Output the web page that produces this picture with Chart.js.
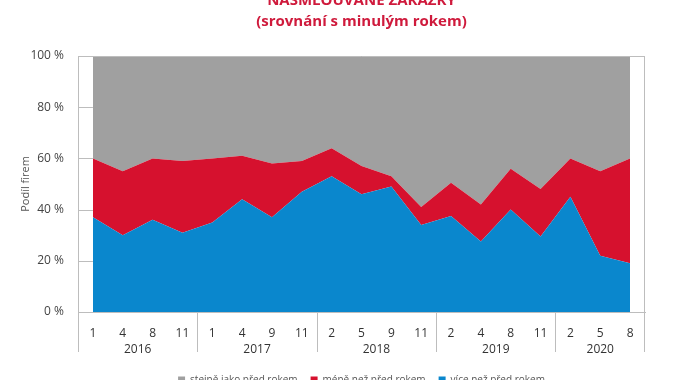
<!DOCTYPE html>
<html>
<head>
<meta charset="utf-8">
<script src="https://cdn.jsdelivr.net/npm/chart.js@4"></script>
<style>
  html, body { margin: 0; padding: 0; overflow: hidden; background: #fff; }
  #wrap { position: relative; width: 674px; height: 380px; overflow: hidden; }
  #title {
    position: absolute; left: 78px; width: 567px; top: -11px;
    text-align: center; color: #cf1a3c; font-family: "Open Sans", sans-serif;
    font-weight: bold; font-size: 15px; line-height: 21px;
  }
  canvas { position: absolute; left: 0; top: 0; }
</style>
</head>
<body>
<div id="wrap">
  <canvas id="chart" width="674" height="400"></canvas>
  <div id="title">NASMLOUVANÉ ZAKÁZKY<br>(srovnání s minulým rokem)</div>
</div>
<script>
const months = ["1", "4", "8", "11", "1", "4", "9", "11", "2", "5", "9", "11", "2", "4", "8", "11", "2", "5", "8"];
const years = ["2016", "2017", "2018", "2019", "2020"];
const yearCounts = [4, 4, 4, 4, 3];

// share of firms, %
const more = [37, 30, 36, 31, 35, 44, 37, 47, 53, 46, 49, 34, 37.5, 27.5, 40, 29.5, 45, 22, 19];
const less = [23, 25, 24, 28, 25, 17, 21, 12, 11, 11, 4, 7, 13, 14.5, 16, 18.5, 15, 33, 41];
const same = [40, 45, 40, 41, 40, 39, 42, 41, 36, 43, 47, 59, 49.5, 58, 44, 52, 40, 45, 40];

const lineColor = "#bdbdbd";
const font = "'Open Sans', sans-serif";

// frame, short y ticks, year row under the month labels
const framePlugin = {
  id: "frame",
  afterDraw(chart) {
    const { ctx, chartArea: a, scales: { x, y } } = chart;
    const low = a.bottom + 40;
    ctx.save();
    ctx.strokeStyle = lineColor;
    ctx.lineWidth = 1;
    ctx.beginPath();
    ctx.moveTo(a.left, a.top + 0.5);
    ctx.lineTo(a.right, a.top + 0.5);
    ctx.moveTo(a.right - 0.5, a.top);
    ctx.lineTo(a.right - 0.5, low);
    ctx.moveTo(a.left + 0.5, a.bottom);
    ctx.lineTo(a.left + 0.5, low);
    // tick marks between axis and first point
    const x0 = x.getPixelForValue(0);
    y.ticks.forEach(t => {
      const py = Math.round(y.getPixelForValue(t.value)) + 0.5;
      ctx.moveTo(a.left, py);
      ctx.lineTo(x0, py);
    });
    ctx.stroke();

    ctx.fillStyle = "#333";
    ctx.font = "12px " + font;
    ctx.textAlign = "center";
    ctx.textBaseline = "middle";
    let i = 0;
    years.forEach((yr, k) => {
      const first = i, last = i + yearCounts[k] - 1;
      const cx = (x.getPixelForValue(first) + x.getPixelForValue(last)) / 2;
      ctx.fillText(yr, cx, a.bottom + 38);
      if (k < years.length - 1) {
        const sx = Math.round((x.getPixelForValue(last) + x.getPixelForValue(last + 1)) / 2) + 0.5;
        ctx.beginPath();
        ctx.moveTo(sx, a.bottom);
        ctx.lineTo(sx, low);
        ctx.stroke();
      }
      i = last + 1;
    });
    ctx.restore();
  }
};

new Chart(document.getElementById("chart"), {
  type: "line",
  data: {
    labels: months,
    datasets: [
      { label: "více než před rokem", data: more, backgroundColor: "#0a87cd", fill: "origin" },
      { label: "méně než před rokem", data: less, backgroundColor: "#d6112e", fill: "-1" },
      { label: "stejně jako před rokem", data: same, backgroundColor: "#a0a0a0", fill: "-1" }
    ]
  },
  options: {
    responsive: false,
    animation: false,
    elements: { point: { radius: 0 }, line: { borderWidth: 0, tension: 0 } },
    layout: { padding: { left: 0, right: 29, top: 56, bottom: 5 } },
    plugins: {
      legend: {
        position: "bottom",
        fullSize: false,
        reverse: true,
        labels: {
          boxWidth: 7, boxHeight: 7, padding: 13,
          color: "#555", font: { family: font, size: 10 }
        }
      },
      tooltip: { enabled: false }
    },
    scales: {
      x: {
        offset: true,
        grid: { display: false },
        border: { display: true, color: lineColor },
        ticks: { color: "#333", padding: 6, maxRotation: 0, autoSkip: false, font: { family: font, size: 12 } },
        afterFit: s => { s.height = 50; }
      },
      y: {
        stacked: true,
        min: 0, max: 100,
        grid: { display: false },
        border: { display: true, color: lineColor },
        ticks: {
          stepSize: 20, padding: 6, color: "#444",
          font: { family: font, size: 12 },
          callback: v => v + " %"
        },
        title: {
          display: true, text: "Podíl firem", color: "#555",
          font: { family: font, size: 11 }, padding: { top: 19, bottom: 0 }
        },
        afterFit: s => { s.width = 78; }
      }
    }
  },
  plugins: [framePlugin]
});
</script>
</body>
</html>
